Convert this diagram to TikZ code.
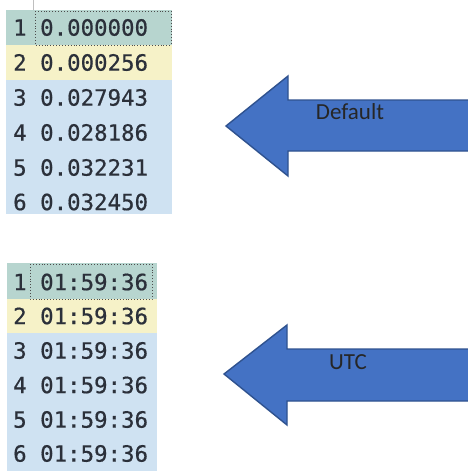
\documentclass[tikz,border=0pt]{standalone}
\usepackage{fontspec}
\setmonofont[FakeBold=0.6]{DejaVu Sans Mono}
\newfontfamily\calib{Carlito}
\definecolor{rowteal}{HTML}{B7D5CF}
\definecolor{rowyel}{HTML}{F6F2C8}
\definecolor{rowblue}{HTML}{CFE2F2}
\definecolor{txtc}{HTML}{2B303A}
\definecolor{arrfill}{HTML}{4472C4}
\definecolor{arrline}{HTML}{2F528F}
\begin{document}
\begin{tikzpicture}[x=1pt,y=-1pt,
  celltxt/.style={anchor=west,inner sep=0pt,text=txtc,font=\ttfamily\fontsize{22.4}{22.4}\selectfont},
  bigarrow/.style={fill=arrfill,draw=arrline,line width=1.4pt,line join=miter},
  arrlabel/.style={inner sep=0pt,text=black!85,font=\calib\fontsize{23}{23}\selectfont},
  cursorbox/.style={draw=black!70,dotted,line width=0.9pt}]
\useasboundingbox (0,0) rectangle (468,471);
% ---- table 1 ----
\fill[rowteal] (6,10) rectangle (172,45);
\fill[rowyel] (6,45) rectangle (172,80);
\fill[rowblue] (6,80) rectangle (172,214);
\draw[black!25,line width=0.6pt] (33,0) -- (33,10);
\draw[cursorbox] (35,11) rectangle (171,45);
\node[celltxt] (a1) at (13,27.5) {1 0.000000};
\node[celltxt] (a2) at (13,62.5) {2 0.000256};
\node[celltxt] (a3) at (13,97.5) {3 0.027943};
\node[celltxt] (a4) at (13,132.5) {4 0.028186};
\node[celltxt] (a5) at (13,167.5) {5 0.032231};
\node[celltxt] (a6) at (13,202) {6 0.032450};
% ---- table 2 ----
\fill[rowteal] (7,263) rectangle (157,299);
\fill[rowyel] (7,299) rectangle (157,333);
\fill[rowblue] (7,333) rectangle (157,471);
\draw[cursorbox] (30,264) rectangle (152,299);
\node[celltxt] (b1) at (13,282) {1 01:59:36};
\node[celltxt] (b2) at (13,316) {2 01:59:36};
\node[celltxt] (b3) at (13,350.5) {3 01:59:36};
\node[celltxt] (b4) at (13,385) {4 01:59:36};
\node[celltxt] (b5) at (13,419.5) {5 01:59:36};
\node[celltxt] (b6) at (13,453.5) {6 01:59:36};
% ---- arrows ----
\draw[bigarrow] (480,100) -- (288,100) -- (288,76) -- (226,126) -- (288,176) -- (288,151) -- (480,151) -- cycle;
\node[arrlabel] (l1) at (350,112) {Default};
\draw[bigarrow] (480,349) -- (287,349) -- (287,325) -- (224,374) -- (287,425) -- (287,401) -- (480,401) -- cycle;
\node[arrlabel] (l2) at (348,362) {UTC};
\end{tikzpicture}
\end{document}
